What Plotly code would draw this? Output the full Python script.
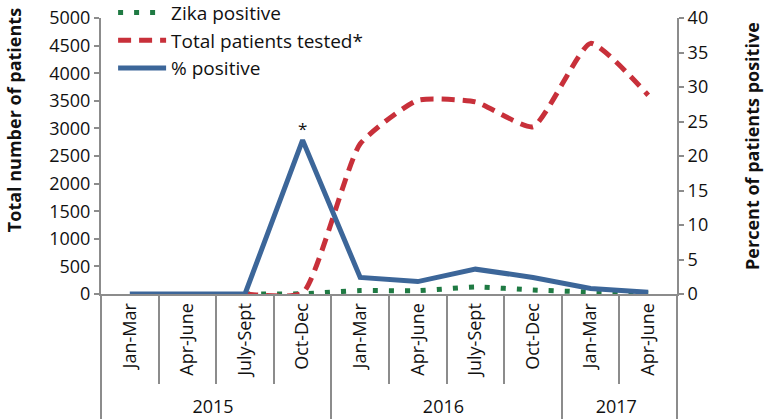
import plotly.graph_objects as go

years = ["2015", "2015", "2015", "2015", "2016", "2016", "2016", "2016", "2017", "2017"]
quarters = ["Jan-Mar", "Apr-June", "July-Sept", "Oct-Dec",
            "Jan-Mar", "Apr-June", "July-Sept", "Oct-Dec",
            "Jan-Mar", "Apr-June"]
zika_positive = [None, None, 0, 4, 62, 60, 125, 73, 36, 9]
total_tested = [None, None, 0, 20, 2720, 3510, 3480, 3030, 4540, 3600]
pct_positive = [0, 0, 0, 22.3, 2.4, 1.8, 3.6, 2.4, 0.8, 0.25]

left_ticks = list(range(0, 5001, 500))
right_ticks = list(range(0, 41, 5))

FONT = "Open Sans"
GRAY = "#8c8c8c"
x = [years, quarters]

fig = go.Figure()
fig.add_trace(go.Scatter(
    x=x, y=zika_positive, name="Zika positive", mode="lines",
    line=dict(color="#1f7a43", width=5, dash="5px,11px", shape="spline",
              smoothing=0.5),
    yaxis="y"))
fig.add_trace(go.Scatter(
    x=x, y=total_tested, name="Total patients tested*", mode="lines",
    line=dict(color="#c8303a", width=5, dash="13px,8px", shape="spline",
              smoothing=0.5),
    yaxis="y"))
fig.add_trace(go.Scatter(
    x=x, y=pct_positive, name="% positive", mode="lines",
    line=dict(color="#3c6699", width=5),
    yaxis="y2"))

fig.add_annotation(x=3, y=pct_positive[3], xref="x", yref="y2", text="*",
                   showarrow=False, yshift=12,
                   font=dict(family=FONT, size=17, color="#111"))
fig.add_annotation(x=-0.151, y=0.630, xref="paper", yref="paper",
                   text="<b>Total number of patients</b>", textangle=-90,
                   showarrow=False, xanchor="center", yanchor="middle",
                   font=dict(family=FONT, size=18, color="#111"))
fig.add_annotation(x=1.130, y=0.536, xref="paper", yref="paper",
                   text="<b>Percent of patients positive</b>", textangle=-90,
                   showarrow=False, xanchor="center", yanchor="middle",
                   font=dict(family=FONT, size=18, color="#111"))

fig.update_layout(
    width=765, height=419,
    margin=dict(l=101, r=88, t=18, b=125, autoexpand=False),
    paper_bgcolor="white", plot_bgcolor="white",
    font=dict(family=FONT, size=18, color="#111"),
    showlegend=True,
    legend=dict(x=0.021, y=1.088, xanchor="left", yanchor="top",
                bgcolor="rgba(0,0,0,0)", font=dict(size=19),
                tracegroupgap=0, itemwidth=48),
    xaxis=dict(type="multicategory", range=[-0.5, 9.5],
               showline=True, linecolor=GRAY, linewidth=2,
               ticks="outside", tickson="boundaries", ticklen=88,
               tickcolor=GRAY, tickwidth=2, tickangle=-90,
               showdividers=True, dividercolor=GRAY, dividerwidth=2,
               showgrid=False, zeroline=False, automargin=False,
               tickfont=dict(size=18)),
    yaxis=dict(range=[0, 5000], tickvals=left_ticks, showline=True,
               linecolor=GRAY, linewidth=2, ticks="outside", ticklen=5,
               tickcolor=GRAY, tickwidth=2, showgrid=False, zeroline=False,
               tickfont=dict(size=18), automargin=False),
    yaxis2=dict(range=[0, 40], tickvals=right_ticks, overlaying="y",
                side="right", showline=True, linecolor=GRAY, linewidth=2,
                ticks="outside", ticklen=5, tickcolor=GRAY, tickwidth=2,
                showgrid=False, zeroline=False, tickfont=dict(size=18),
                automargin=False),
)

fig.write_html("out.html", config={"displayModeBar": False},
               post_script="document.body.style.margin='0';")
